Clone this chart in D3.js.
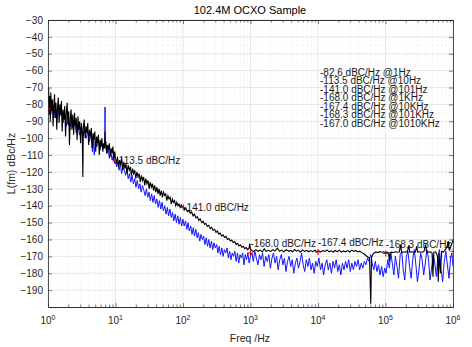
<!DOCTYPE html>
<html>
<head>
<meta charset="utf-8">
<script src="https://cdn.jsdelivr.net/npm/d3@7"></script>
<style>
  body { margin: 0; background: #fff; }
  svg { font-family: "Liberation Sans", Arial, sans-serif; }
</style>
</head>
<body>
<div id="chart"></div>
<script>
// decades on the x axis and y tick values
const xDecades = [1, 10, 100, 1000, 10000, 100000, 1000000];
const xExponents = ["0", "1", "2", "3", "4", "5", "6"];
const yTicks = [-190, -180, -170, -160, -150, -140, -130, -120, -110, -100, -90, -80, -70, -60, -50, -40, -30];

// measured trace (black), [freq Hz, dBc/Hz], split by decade ranges
const blackLow = [[1.00,-78],[1.02,-70],[1.04,-86],[1.06,-75],[1.08,-90],[1.10,-73],[1.13,-84],[1.16,-77],[1.19,-93],[1.22,-80],
  [1.25,-74],[1.28,-88],[1.31,-79],[1.35,-95],[1.38,-82],[1.42,-76],[1.46,-91],[1.50,-80],[1.54,-86],[1.58,-78],
  [1.62,-96],[1.67,-83],[1.72,-89],[1.77,-81],[1.82,-99],[1.87,-85],[1.92,-79],[1.98,-92],[2.03,-84],[2.08,-104],
  [2.14,-88],[2.20,-83],[2.26,-95],[2.33,-86],[2.40,-98],[2.47,-85],[2.54,-93],[2.62,-88],[2.70,-101],[2.78,-87],
  [2.86,-95],[2.95,-90],[3.04,-103],[3.13,-91],[3.22,-97],[3.28,-123],[3.34,-94],[3.44,-89],[3.55,-100],[3.66,-93],
  [3.77,-97],[3.88,-91],[4.0,-104],[4.12,-95],[4.25,-99],[4.38,-94],[4.51,-106],[4.65,-97],[4.79,-101],[4.94,-96],
  [5.09,-108],[5.25,-99],[5.41,-103],[5.58,-98],[5.75,-110],[5.93,-101],[6.11,-105],[6.30,-100],[6.49,-108],[6.69,-103],
  [6.90,-106],[6.98,-96],[7.05,-104],[7.2,-102],[7.4,-109],[7.6,-104],[7.85,-107],[8.1,-103],[8.35,-111],[8.6,-106],
  [8.9,-109],[9.15,-105],[9.45,-113],[9.75,-108],[10.0,-112]];
const blackMid = [[10.3,-115],[10.7,-111],[11.1,-117],[11.5,-113],[11.9,-116],[12.3,-112],[12.8,-119],[13.3,-114],[13.8,-118],[14.3,-115],
  [14.8,-121],[15.4,-116],[16.0,-119],[16.6,-117],[17.2,-122],[17.9,-118],[18.6,-121],[19.3,-119],[20.0,-124],[20.8,-120],
  [21.6,-123],[22.4,-121],[23.3,-126],[24.2,-122],[25.1,-125],[26.1,-123],[27.1,-128],[28.1,-124],[29.2,-127],[30.3,-125],
  [31.5,-130],[32.7,-126],[34.0,-129],[35.3,-127],[36.6,-131],[38.0,-128],[39.5,-132],[41.0,-129],[42.6,-133],[44.2,-130],
  [45.9,-134],[47.7,-131],[49.5,-135],[51.4,-132],[53.4,-134],[55.4,-133],[57.6,-137],[59.8,-134],[62.1,-136],[64.5,-135],
  [67.0,-139],[69.6,-136],[72.3,-138],[75.1,-137],[78.0,-140],[81.0,-138],[84.1,-140],[87.3,-139],[90.7,-141],[94.2,-139.5],
  [97.8,-141],[101,-140.5],[105,-142.5],[110,-141.5],[116,-143.5],[122,-142.8],[128,-144.5],[134,-143.6],[141,-146],[148,-145],
  [155,-147.2],[163,-146.5],[171,-148.6],[180,-147.8],[189,-150],[198,-149.2],[208,-151],[218,-150.5],[229,-152.3],[241,-151.6],
  [253,-153.6],[266,-152.8],[279,-154.5],[293,-154],[308,-155.8],[323,-155],[339,-156.8],[356,-156.2],[374,-158],[393,-157.3],
  [413,-158.8],[434,-158.2],[456,-160],[479,-159.4],[503,-160.9],[528,-160.3],[555,-161.8],[583,-161.2],[612,-163],[643,-162.3],
  [675,-163.8],[709,-163.2],[745,-164.6],[782,-164],[821,-165.4],[862,-164.8],[905,-166],[950,-165.2],[975,-162.5],[1000,-165.8]];
const blackHigh = [[1050,-166.5],[1100,-167.2],[1200,-166],[1300,-167],[1400,-166.3],[1500,-167.4],[1600,-165.5],[1700,-167],[1850,-166.4],[2000,-167.1],
  [2150,-166],[2300,-166.9],[2500,-165.2],[2700,-167],[2900,-166.3],[3100,-167.3],[3400,-166.1],[3700,-167],[3900,-166.5],[4200,-167.3],
  [4500,-166],[4800,-166.9],[5100,-166.3],[5500,-167.5],[5900,-166.2],[6300,-167.1],[6800,-166.5],[7300,-167.3],[7800,-166.6],[8400,-167.2],
  [9000,-166.4],[9600,-167.3],[10300,-166.8],[11000,-167.4],[11800,-166.6],[12700,-167.1],[13600,-166.2],[14600,-167.3],[15700,-166.7],[16800,-167.4],
  [18000,-166.5],[19300,-167.2],[20700,-166.4],[22200,-167.5],[23800,-166.8],[25500,-167.3],[27400,-166.6],[29400,-167.4],[31500,-166.3],[33800,-167.1],
  [36200,-166.5],[38800,-167.4],[41600,-166.9],[44600,-167.8],[47800,-168.5],[51300,-169.5],[55000,-170.5],[58000,-171],[60500,-198],[62000,-171],
  [64500,-169],[68000,-168],[72000,-167.4],[77000,-167.8],[82000,-167.2],[88000,-167.6],[94000,-167.3],[100000,-167.8],[106000,-167.5],[111000,-168],
  [114000,-173],[117000,-167.8],[123000,-167.5],[131000,-167.7],[140000,-167.3],[150000,-167.6],[160000,-167.4],[168000,-163],[173000,-167.5],[185000,-167.6],
  [197000,-167.3],[210000,-167.5],[222000,-163.5],[228000,-167.5],[243000,-167.3],[260000,-167.6],[278000,-167.4],[290000,-164],[300000,-167.5],[320000,-167.3],
  [345000,-167.6],[370000,-167.2],[395000,-163],[405000,-167.4],[430000,-167.5],[460000,-167.3],[490000,-168],[505000,-182],[520000,-167.5],[555000,-167.3],
  [590000,-170],[605000,-185],[620000,-168],[650000,-180],[680000,-167],[720000,-167.5],[770000,-166],[820000,-164],[850000,-161],[880000,-166.5],
  [930000,-164],[970000,-162],[1000000,-160]];

// lower trace (blue)
const blueLow = [[1.0,-80],[1.05,-76],[1.1,-86],[1.16,-79],[1.22,-88],[1.28,-81],[1.35,-90],[1.42,-83],[1.5,-87],[1.58,-82],
  [1.67,-91],[1.77,-85],[1.87,-93],[1.98,-87],[2.1,-95],[2.22,-89],[2.35,-94],[2.48,-90],[2.62,-97],[2.77,-92],
  [2.93,-98],[3.1,-93],[3.28,-99],[3.47,-95],[3.67,-100],[3.88,-96],[4.1,-102],[4.34,-98],[4.55,-108],[4.7,-101],
  [4.85,-110],[5.0,-102],[5.3,-105],[5.6,-101],[5.9,-107],[6.2,-103],[6.5,-106],[6.8,-104],[6.97,-100],[7.0,-81.5],
  [7.03,-100],[7.2,-106],[7.5,-109],[7.8,-106],[8.1,-112],[8.5,-108],[8.9,-113],[9.3,-110],[9.7,-115],[10,-113]];
const blueMid = [[10.4,-117],[10.8,-114],[11.3,-119],[11.8,-115],[12.3,-121],[12.9,-117],[13.5,-119],[14.1,-122],[14.7,-118],[15.4,-124],
  [16.1,-121],[16.8,-126],[17.6,-122],[18.4,-127],[19.2,-124],[20.1,-129],[21.0,-125],[22.0,-130],[23.0,-127],[24.0,-132],
  [25.1,-128],[26.3,-131],[27.5,-134],[28.7,-130],[30.0,-135],[31.4,-132],[32.8,-137],[34.3,-133],[35.9,-138],[37.5,-134],
  [39.2,-139],[41.0,-136],[42.9,-141],[44.8,-137],[46.9,-142],[49.0,-138],[51.2,-143],[53.6,-140],[56.0,-145],[58.6,-141],
  [61.2,-146],[64.0,-142],[67.0,-147],[70.0,-144],[73.2,-149],[76.5,-145],[80.0,-150],[83.6,-146],[87.4,-151],[91.4,-147],
  [95.5,-152],[99.9,-148],[104,-152],[109,-149],[114,-154],[119,-150],[124,-155],[130,-152],[136,-157],[142,-153],
  [148,-158],[155,-154],[162,-159],[169,-156],[177,-161],[185,-157],[193,-160],[202,-158],[211,-163],[221,-159],
  [231,-164],[241,-160],[252,-165],[264,-161],[276,-166],[288,-162],[301,-165],[315,-163],[329,-168],[344,-164],
  [360,-169],[376,-165],[393,-170],[411,-166],[430,-168],[449,-165],[470,-171],[491,-167],[513,-172],[536,-168],
  [561,-170],[586,-167],[613,-173],[641,-168],[670,-174],[700,-169],[732,-171],[765,-168],[800,-175],[836,-169],
  [874,-172],[914,-168],[955,-174],[1000,-170]];
const blueHigh = [[1050,-168],[1100,-173],[1160,-167],[1220,-171],[1290,-175],[1360,-169],[1430,-172],[1510,-168],[1590,-176],[1680,-170],
  [1770,-173],[1870,-169],[1970,-177],[2080,-171],[2190,-168],[2310,-174],[2440,-170],[2570,-178],[2710,-172],[2860,-169],
  [3020,-175],[3180,-171],[3360,-179],[3540,-173],[3730,-170],[3940,-176],[4150,-172],[4380,-180],[4620,-174],[4870,-171],
  [5140,-177],[5420,-173],[5720,-168],[6030,-175],[6360,-179],[6710,-172],[7080,-176],[7470,-171],[7880,-178],[8310,-174],
  [8770,-180],[9250,-173],[9760,-176],[10300,-171],[10900,-178],[11500,-174],[12100,-181],[12800,-175],[13500,-172],[14200,-178],
  [15000,-174],[15800,-180],[16700,-173],[17600,-177],[18600,-172],[19600,-179],[20700,-175],[21800,-181],[23000,-174],[24300,-178],
  [25600,-173],[27000,-177],[28500,-172],[30100,-179],[31700,-174],[33500,-178],[35300,-173],[37200,-176],[39300,-172],[41400,-178],
  [43700,-174],[46100,-177],[48600,-173],[51300,-175],[54100,-171],[57100,-173],[60200,-169],[61500,-170],[63500,-174],[67000,-178],
  [70700,-173],[74600,-179],[78700,-175],[83000,-181],[87600,-176],[92400,-182],[97500,-177],[102000,-180],[108000,-172],[114000,-177],
  [120000,-168],[126000,-174],[133000,-181],[140000,-170],[148000,-176],[156000,-183],[165000,-169],[174000,-167],[183000,-178],[193000,-184],
  [204000,-170],[215000,-167],[227000,-176],[240000,-183],[253000,-172],[267000,-166],[282000,-175],[297000,-185],[314000,-178],[331000,-168],
  [349000,-172],[368000,-181],[389000,-174],[410000,-166],[433000,-171],[457000,-184],[482000,-177],[509000,-169],[537000,-174],[567000,-182],
  [598000,-170],[631000,-166],[666000,-178],[703000,-185],[742000,-173],[783000,-167],[826000,-175],[872000,-183],[920000,-171],[960000,-168],
  [1000000,-176]];

// marked points
const markFreq = [1, 10, 101, 1000, 10000, 101000, 1010000];
const markDb = [-82.6, -113.5, -141.0, -168.0, -167.4, -168.3, -167.0];
const markUnit = ["1Hz", "10Hz", "101Hz", "1KHz", "10KHz", "101KHz", "1010KHz"];

const W = 472, H = 347;
const mL = 48, mR = 453, mT = 20, mB = 307;

const svg = d3.select("#chart").append("svg").attr("width", W).attr("height", H);

const x = d3.scaleLog().domain([1, 1e6]).range([mL, mR]);
const y = d3.scaleLinear().domain([-200, -30]).range([mB, mT]);

const minorX = [];
xDecades.slice(0, -1).forEach(d => { for (let k = 2; k <= 9; k++) minorX.push(d * k); });
const minorY = d3.range(-195, -30, 10);

// grid
const grid = svg.append("g");
grid.selectAll(".mx").data(minorX).join("line")
  .attr("x1", d => x(d)).attr("x2", d => x(d)).attr("y1", mT).attr("y2", mB)
  .attr("stroke", "#e2e2e2").attr("stroke-width", 0.6).attr("stroke-dasharray", "1,1.5");
grid.selectAll(".my").data(minorY).join("line")
  .attr("x1", mL).attr("x2", mR).attr("y1", d => y(d)).attr("y2", d => y(d))
  .attr("stroke", "#ececec").attr("stroke-width", 0.6).attr("stroke-dasharray", "1,1.5");
grid.selectAll(".gx").data(xDecades).join("line")
  .attr("x1", d => x(d)).attr("x2", d => x(d)).attr("y1", mT).attr("y2", mB)
  .attr("stroke", "#dcdcdc").attr("stroke-width", 0.7);
grid.selectAll(".gy").data(yTicks).join("line")
  .attr("x1", mL).attr("x2", mR).attr("y1", d => y(d)).attr("y2", d => y(d))
  .attr("stroke", "#dcdcdc").attr("stroke-width", 0.7);

svg.append("defs").append("clipPath").attr("id", "plotclip")
  .append("rect").attr("x", mL).attr("y", mT).attr("width", mR - mL).attr("height", mB - mT);

const plot = svg.append("g").attr("clip-path", "url(#plotclip)");

// point labels (drawn below the traces); the high-frequency ones sit a bit above their point
const labelOffset = f => (f >= 1000 ? 5.5 : 0);
plot.selectAll(".plabel").data(markFreq.slice(1, 6)).join("text")
  .attr("x", d => x(d))
  .attr("y", (d, i) => y(markDb[i + 1] + labelOffset(d)))
  .attr("dy", "0.35em")
  .attr("font-size", 10).attr("fill", "#1a1a1a")
  .text((d, i) => markDb[i + 1].toFixed(1) + " dBC/Hz");

const line = d3.line().x(d => x(d[0])).y(d => y(d[1]));
plot.append("path").datum(blueLow.concat(blueMid, blueHigh))
  .attr("d", line).attr("fill", "none").attr("stroke", "#1414ff").attr("stroke-width", 1);
plot.append("path").datum(blackLow.concat(blackMid, blackHigh))
  .attr("d", line).attr("fill", "none").attr("stroke", "#000").attr("stroke-width", 1.1);

// red + markers
plot.selectAll(".mk").data(markFreq).join("path")
  .attr("d", "M-3,0H3M0,-3V3")
  .attr("transform", (d, i) => `translate(${x(d)},${y(markDb[i])})`)
  .attr("stroke", "#e00000").attr("stroke-width", 1).attr("fill", "none");

// axes (MATLAB style: ticks inward, box)
const axCol = "#262626";
const bx = svg.append("g").attr("transform", `translate(0,${mB})`)
  .call(d3.axisBottom(x).tickValues(xDecades).tickFormat("").tickSizeInner(-4).tickSizeOuter(0));
const bxm = svg.append("g").attr("transform", `translate(0,${mB})`)
  .call(d3.axisBottom(x).tickValues(minorX).tickFormat("").tickSizeInner(-2.5).tickSizeOuter(0));
const tx = svg.append("g").attr("transform", `translate(0,${mT})`)
  .call(d3.axisTop(x).tickValues(xDecades).tickFormat("").tickSizeInner(-4).tickSizeOuter(0));
const txm = svg.append("g").attr("transform", `translate(0,${mT})`)
  .call(d3.axisTop(x).tickValues(minorX).tickFormat("").tickSizeInner(-2.5).tickSizeOuter(0));
const ly = svg.append("g").attr("transform", `translate(${mL},0)`)
  .call(d3.axisLeft(y).tickValues(yTicks).tickSizeInner(-4).tickSizeOuter(0).tickPadding(5));
const ry = svg.append("g").attr("transform", `translate(${mR},0)`)
  .call(d3.axisRight(y).tickValues(yTicks).tickFormat("").tickSizeInner(-4).tickSizeOuter(0));

[bx, bxm, tx, txm, ly, ry].forEach(g => {
  g.select(".domain").attr("stroke", axCol).attr("stroke-width", 0.8);
  g.selectAll(".tick line").attr("stroke", axCol).attr("stroke-width", 0.6);
});
ly.selectAll("text").attr("font-size", 10).attr("fill", axCol)
  .attr("font-family", "Liberation Sans, Arial, sans-serif");

// x tick labels 10^n
const xl = svg.append("g").selectAll("text").data(xDecades).join("text")
  .attr("x", d => x(d)).attr("y", 324)
  .attr("text-anchor", "middle").attr("font-size", 10).attr("fill", axCol);
xl.append("tspan").text("10");
xl.append("tspan").attr("dy", -4).attr("font-size", 7).text((d, i) => xExponents[i]);

// titles
svg.append("text").attr("x", 250).attr("y", 14).attr("text-anchor", "middle")
  .attr("font-size", 11).attr("fill", "#000").text("102.4M OCXO Sample");
svg.append("text").attr("x", 250).attr("y", 342).attr("text-anchor", "middle")
  .attr("font-size", 10.5).attr("fill", axCol).text("Freq /Hz");
svg.append("text").attr("transform", `translate(15,${(mT + mB) / 2}) rotate(-90)`)
  .attr("text-anchor", "middle").attr("font-size", 10.5).attr("fill", axCol).text("L(fm) dBc/Hz");

// summary block: one text with tight lines
svg.append("text").attr("x", 320).attr("y", 75.5)
  .attr("font-size", 10).attr("fill", "#1a1a1a")
  .selectAll("tspan").data(markDb).join("tspan")
  .attr("x", 320).attr("dy", (d, i) => (i === 0 ? 0 : 8.5))
  .text((d, i) => d.toFixed(1) + " dBC/Hz @" + markUnit[i]);
</script>
</body>
</html>
